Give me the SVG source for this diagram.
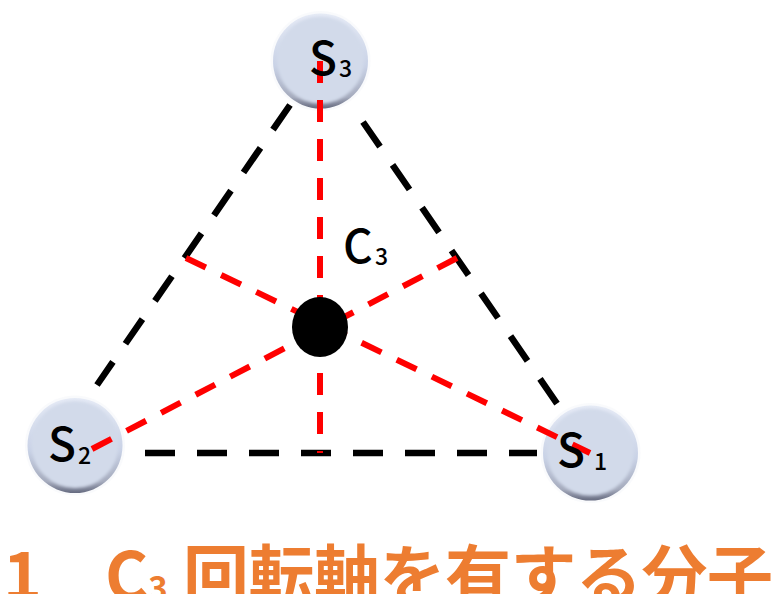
<svg xmlns="http://www.w3.org/2000/svg" width="782" height="594" viewBox="0 0 782 594">
<style>
.lbl{font-family:"Noto Sans CJK JP","Noto Sans",sans-serif;font-weight:500;fill:#000}
.s{font-size:46px}.sub{font-size:23px}
.title{font-family:"Noto Sans CJK JP","Noto Sans",sans-serif;font-weight:700;font-size:66px;fill:#ed7d31}
.blk{stroke:#000;stroke-width:6.5;fill:none;stroke-dasharray:30 22}
.red{stroke:#f00;stroke-width:6;fill:none;stroke-dasharray:22 17}
</style>
<defs>
<linearGradient id="rim" x1="0" y1="0" x2="0" y2="1">
<stop offset="0" stop-color="#e6ebf6"/><stop offset=".55" stop-color="#c9d2e6"/><stop offset=".88" stop-color="#a5abbd"/><stop offset="1" stop-color="#666b80"/>
</linearGradient>
<filter id="soft" x="-10%" y="-10%" width="120%" height="120%"><feGaussianBlur stdDeviation="1.6"/></filter>
<g id="ball">
<circle r="50" fill="#eef1f7" opacity=".35"/>
<circle r="47.5" fill="url(#rim)"/>
<circle cy="-1" r="43.5" fill="#d2daea" filter="url(#soft)"/>
</g>
</defs>
<g id="node-S3"><use href="#ball" x="320.5" y="61"/></g>
<g id="node-S2"><use href="#ball" x="75" y="445.5"/></g>
<g id="node-S1"><use href="#ball" x="590.5" y="453"/></g>
<g id="connectors">
<path class="blk" d="M290 105L97 385"/>
<path class="blk" d="M363 122L560 408"/>
<path class="blk" d="M145 453L537 453"/>
<path class="red" d="M320 61L320 453"/>
<path class="red" d="M92 449L457 258"/>
<path class="red" d="M186 258L590 453"/>
</g>
<g id="center"><ellipse cx="320" cy="327" rx="28" ry="30" fill="#000"/></g>
<g id="label-S3"><text class="lbl s" x="309" y="75">S</text><text class="lbl sub" x="339" y="77">3</text></g>
<g id="label-S2"><text class="lbl s" x="48" y="461">S</text><text class="lbl sub" x="78" y="464">2</text></g>
<g id="label-S1"><text class="lbl s" x="557" y="467">S</text><text class="lbl sub" x="594" y="470">1</text></g>
<g id="label-C3"><text class="lbl s" x="343" y="263">C</text><text class="lbl sub" x="375" y="265">3</text></g>
<text class="title" x="3" y="600">1</text>
<text class="title" x="105" y="600">C<tspan font-size="33">3</tspan></text>
<text class="title" x="183" y="600" textLength="590">回転軸を有する分子</text>
</svg>
